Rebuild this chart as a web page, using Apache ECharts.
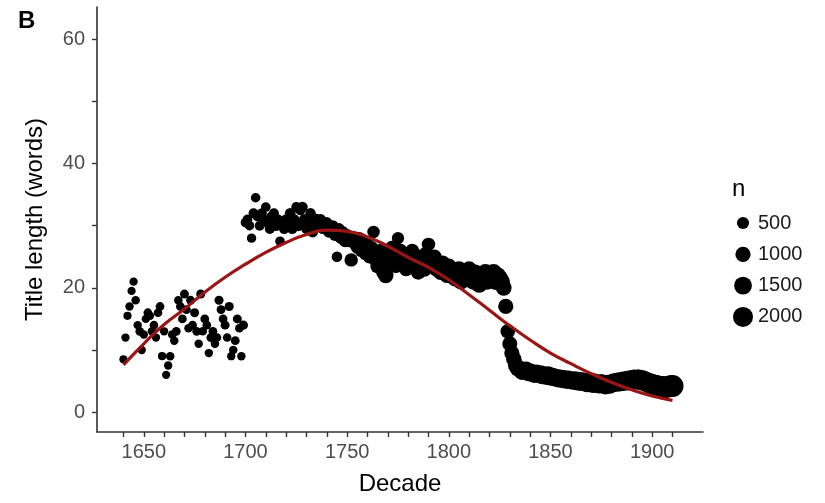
<!DOCTYPE html>
<html>
<head>
<meta charset="utf-8">
<script src="https://cdn.jsdelivr.net/npm/echarts@6/dist/echarts.min.js"></script>
<style>html,body{margin:0;padding:0;background:#fff}#chart{width:825px;height:503px}</style>
</head>
<body>
<div id="chart"></div>
<script>
// ---- data ----
const firstYear = 1640;
// title length (words), one value per year 1640..1910
const len1640s = [8.5,12,15.5,17,19.5,21,18,14,13,10];
const len1650s = [12.5,15,16,15.5,13,14,12,16,17,9];
const len1660s = [13,6,7.5,9,12.5,11.5,13,18,17,15];
const len1670s = [19,16.5,13.5,18,14,16,13,11,19,13];
const len1680s = [15,14,9.5,12,13,11,12,18,16.5,15];
const len1690s = [14,12,17,9,10,11.5,15,13.5,9,14];
const len1700s = [30.5,31,30,28,32,34.5,31.5,30,32,31];
const len1710s = [33,30.5,29.5,31.5,32,30,31,27.5,30.5,29.5];
const len1720s = [31,30,32,29.5,31,33,30,32.5,33,31];
const len1730s = [29.5,30.5,32,29,30.5,31,30,31,29.5,30];
const len1740s = [30.5,29,29.5,30,28.5,25,29.5,28,29,27.5];
const len1750s = [28.5,27.5,24.5,28,27,26.5,28,26,27.5,25.5];
const len1760s = [27,25,26.5,29,24.5,23.5,26,25,22.5,22];
const len1770s = [25.5,24,26.5,25,23.5,28,26,24.5,25.5,23];
const len1780s = [25,24,26,23.5,24.5,22.5,25,24,23,25.5];
const len1790s = [27,24.5,23.5,25,23,24,22.5,24,23,22];
const len1800s = [23.5,22.5,23,21.5,22.5,23,21,22.5,22,21.5];
const len1810s = [23,22,21,22.5,21.5,20.5,22,21.5,22.5,21];
const len1820s = [22,21.5,22.5,21,22,21.5,21,20,17,13];
const len1830s = [11,9.5,8.5,7.5,7,7,6.5,6.5,6.8,6.3];
const len1840s = [6.5,6.2,6,6.3,6,6.2,5.8,6,5.7,6];
const len1850s = [5.6,5.8,5.5,5.6,5.3,5.5,5.2,5.4,5.1,5.3];
const len1860s = [5.2,5,5.2,4.9,5.1,4.8,5,4.8,4.6,4.9];
const len1870s = [4.7,4.5,4.8,4.6,4.4,4.7,4.5,4.3,4.6,4.4];
const len1880s = [4.6,4.8,4.7,4.9,4.8,5,4.9,5.1,5,5.2];
const len1890s = [5.1,5.3,5.2,5.3,5.1,5.2,5,4.9,4.7,4.6];
const len1900s = [4.5,4.4,4.3,4.2,4.1,4.1,4,4,4.1,4.2,4.2];

// number of titles per year (n)
const n1640s = [25,40,30,55,35,45,60,50,70,40];
const n1650s = [55,45,80,60,50,65,40,75,90,30];
const n1660s = [50,35,45,60,70,55,80,65,90,75];
const n1670s = [100,85,60,95,70,110,80,55,120,65];
const n1680s = [90,75,50,100,85,60,70,115,95,80];
const n1690s = [105,65,120,45,60,90,110,75,50,130];
const n1700s = [180,200,160,150,220,170,240,210,260,230];
const n1710s = [190,280,250,300,220,270,240,180,310,260];
const n1720s = [290,250,320,280,300,230,340,260,310,350];
const n1730s = [290,330,270,360,300,380,320,340,290,400];
const n1740s = [360,420,380,350,440,300,410,460,390,480];
const n1750s = [500,460,700,520,560,600,540,620,580,660];
const n1760s = [600,700,640,560,720,900,680,740,1000,1050];
const n1770s = [720,780,690,760,820,520,800,740,860,780];
const n1780s = [820,880,760,900,840,920,860,800,940,880];
const n1790s = [700,900,960,850,980,920,1000,950,1020,980];
const n1800s = [1000,1050,980,1100,1040,1120,1080,1150,1060,1180];
const n1810s = [1100,1200,1140,1080,1220,1160,1250,1190,1230,1150];
const n1820s = [1280,1200,1260,1300,1220,1320,1250,1100,1000,900];
const n1830s = [950,1000,1050,1100,1150,1100,1200,1150,1250,1200];
const n1840s = [1300,1250,1200,1280,1220,1300,1250,1320,1280,1350];
const n1850s = [1300,1250,1320,1380,1300,1350,1280,1400,1320,1360];
const n1860s = [1300,1380,1340,1420,1360,1400,1450,1380,1420,1460];
const n1870s = [1400,1480,1440,1500,1460,1520,1480,1550,1500,1540];
const n1880s = [1560,1600,1580,1650,1620,1700,1680,1750,1720,1800];
const n1890s = [1780,1850,1820,1900,1880,1950,2000,1980,2050,2100];
const n1900s = [2080,2150,2120,2200,2180,2250,2300,2280,2350,2400,2500];

// fitted smooth, with its confidence band
const smoothYears = [1640,1650,1660,1670,1680,1690,1700,1710,1720,1730,1740,1750,1760,1770,1780,1790,1800,1810,1820,1830,1840,1850,1860,1870,1880,1890,1900,1910];
const smoothFit   = [7.6,11,14.1,16.6,19.3,21.7,23.8,25.7,27.3,28.6,29.3,29.1,28.2,26.7,24.9,23.3,21.3,18.9,16.4,13.9,11.6,9.5,7.8,6.2,4.8,3.6,2.6,1.9];
const smoothLow   = [5.9,9.9,13.4,16.1,18.9,21.3,23.4,25.3,26.9,28.2,28.9,28.7,27.8,26.3,24.5,22.9,20.9,18.5,16.0,13.5,11.2,9.1,7.4,5.8,4.3,3.0,1.8,0.5];
const smoothHigh  = [9.3,12.1,14.8,17.1,19.7,22.1,24.2,26.1,27.7,29.0,29.7,29.5,28.6,27.1,25.3,23.7,21.7,19.3,16.8,14.3,12.0,9.9,8.2,6.6,5.3,4.2,3.4,3.3];

// tick marks / labels
const xTicks = [1640,1650,1660,1670,1680,1690,1700,1710,1720,1730,1740,1750,1760,1770,1780,1790,1800,1810,1820,1830,1840,1850,1860,1870,1880,1890,1900,1910];
const xLabels = [1650,1700,1750,1800,1850,1900];
const yTicks = [0,10,20,30,40,50,60];
const yLabels = [0,20,40,60];
const legendN = [500,1000,1500,2000];

// ---- build ----
const lengths = [].concat(len1640s,len1650s,len1660s,len1670s,len1680s,len1690s,len1700s,len1710s,len1720s,len1730s,len1740s,len1750s,len1760s,len1770s,len1780s,len1790s,len1800s,len1810s,len1820s,len1830s,len1840s,len1850s,len1860s,len1870s,len1880s,len1890s,len1900s);
const counts = [].concat(n1640s,n1650s,n1660s,n1670s,n1680s,n1690s,n1700s,n1710s,n1720s,n1730s,n1740s,n1750s,n1760s,n1770s,n1780s,n1790s,n1800s,n1810s,n1820s,n1830s,n1840s,n1850s,n1860s,n1870s,n1880s,n1890s,n1900s);
const points = lengths.map((v, i) => [firstYear + i, v, counts[i]]);

function sizeOf(n) { return Math.sqrt(62 + 0.17 * n); }

const FONT = 'Liberation Sans';
const chart = echarts.init(document.getElementById('chart'), null, {renderer: 'canvas'});

const legendGraphics = [{
  type: 'text', left: 732, top: 177,
  style: {text: 'n', fontSize: 24, fontFamily: FONT, fill: '#000'}
}];
const legendTop = 223, legendStep = 31.3;
legendN.forEach((v, i) => {
  const cy = legendTop + i * legendStep;
  legendGraphics.push({type: 'circle', shape: {cx: 743, cy: cy, r: sizeOf(v) / 2}, style: {fill: '#000'}});
  legendGraphics.push({type: 'text', x: 758, y: cy, style: {text: String(v), fontSize: 20, fontFamily: FONT, fill: '#1a1a1a', verticalAlign: 'middle'}});
});

const option = {
  animation: false,
  backgroundColor: '#fff',
  textStyle: {fontFamily: FONT},
  title: {text: 'B', left: 13, top: 4, textStyle: {fontSize: 24, fontWeight: 'bold', color: '#000', fontFamily: FONT}},
  grid: {left: 97, right: 122, top: 7, bottom: 71},
  xAxis: {
    type: 'value', min: 1627, max: 1925,
    name: 'Decade', nameLocation: 'middle', nameGap: 40,
    nameTextStyle: {fontSize: 24, color: '#000', fontFamily: FONT},
    axisLine: {show: true, onZero: false, lineStyle: {color: '#333', width: 1.6}},
    axisTick: {show: true, length: 5, lineStyle: {color: '#333', width: 1.4}, customValues: xTicks},
    axisLabel: {color: '#4D4D4D', fontSize: 20, margin: 10, fontFamily: FONT, customValues: xLabels, formatter: (v) => String(v)},
    splitLine: {show: false}
  },
  yAxis: {
    type: 'value', min: -3.2, max: 65.2,
    name: 'Title length (words)', nameLocation: 'middle', nameGap: 50,
    nameTextStyle: {fontSize: 24, color: '#000', fontFamily: FONT},
    axisLine: {show: true, onZero: false, lineStyle: {color: '#333', width: 1.6}},
    axisTick: {show: true, length: 5, lineStyle: {color: '#333', width: 1.4}, customValues: yTicks},
    axisLabel: {color: '#4D4D4D', fontSize: 20, margin: 12, fontFamily: FONT, customValues: yLabels, formatter: (v) => String(v)},
    splitLine: {show: false}
  },
  series: [
    {
      type: 'scatter', name: 'titles', data: points,
      symbolSize: (val) => sizeOf(val[2]),
      itemStyle: {color: '#000', opacity: 1},
      z: 2
    },
    {
      type: 'line', name: 'bandLow', stack: 'band', smooth: true, symbol: 'none',
      data: smoothYears.map((y, i) => [y, smoothLow[i]]),
      lineStyle: {opacity: 0}, z: 3
    },
    {
      type: 'line', name: 'bandWidth', stack: 'band', smooth: true, symbol: 'none',
      data: smoothYears.map((y, i) => [y, smoothHigh[i] - smoothLow[i]]),
      lineStyle: {opacity: 0}, areaStyle: {color: 'rgba(190,40,40,0.45)'}, z: 3
    },
    {
      type: 'line', name: 'fit', smooth: true, symbol: 'none',
      data: smoothYears.map((y, i) => [y, smoothFit[i]]),
      lineStyle: {color: '#9B1515', width: 3.2}, z: 4
    }
  ],
  graphic: legendGraphics
};
chart.setOption(option);
</script>
</body>
</html>
